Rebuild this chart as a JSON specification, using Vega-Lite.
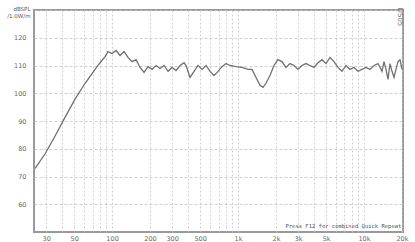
{
  "$schema": "https://vega.github.io/schema/vega-lite/v6.json",
  "width": 369,
  "height": 222,
  "autosize": {"type": "none"},
  "padding": {"left": 34, "top": 10, "right": 12, "bottom": 10},
  "background": "white",
  "config": {"view": {"stroke": "#999999", "strokeWidth": 2}},
  "datasets": {
    "curve": [
      {"f": 24.5, "db": 72.9}, {"f": 29.4, "db": 78.2}, {"f": 35.3, "db": 84.6}, {"f": 42.4, "db": 91.4},
      {"f": 50.8, "db": 97.9}, {"f": 61.1, "db": 103.6}, {"f": 73.3, "db": 108.6}, {"f": 80.3, "db": 111},
      {"f": 88.0, "db": 113.2}, {"f": 92.9, "db": 115}, {"f": 100, "db": 114.3}, {"f": 107.6, "db": 115.4},
      {"f": 115.7, "db": 113.6}, {"f": 124.5, "db": 115}, {"f": 133.9, "db": 112.9}, {"f": 144.1, "db": 111.4},
      {"f": 155.0, "db": 112.1}, {"f": 166.8, "db": 109.3}, {"f": 179.4, "db": 107.5}, {"f": 193.0, "db": 109.6},
      {"f": 207.7, "db": 108.6}, {"f": 223.4, "db": 110}, {"f": 240.4, "db": 108.9}, {"f": 258.6, "db": 110},
      {"f": 278.2, "db": 107.9}, {"f": 299.3, "db": 109.3}, {"f": 322.0, "db": 108.2}, {"f": 346.4, "db": 110},
      {"f": 372.7, "db": 111}, {"f": 386.6, "db": 110}, {"f": 415.9, "db": 105.7}, {"f": 447.5, "db": 107.9},
      {"f": 481.4, "db": 110}, {"f": 517.9, "db": 108.6}, {"f": 557.2, "db": 110}, {"f": 599.4, "db": 107.9},
      {"f": 644.9, "db": 106.4}, {"f": 693.8, "db": 107.9}, {"f": 746.4, "db": 109.6}, {"f": 803.0, "db": 110.7},
      {"f": 863.9, "db": 110}, {"f": 964.0, "db": 109.6}, {"f": 1075.7, "db": 109.3}, {"f": 1200, "db": 108.6},
      {"f": 1291, "db": 108.6}, {"f": 1389, "db": 105.7}, {"f": 1495, "db": 102.9}, {"f": 1578, "db": 102.1},
      {"f": 1666, "db": 103.6}, {"f": 1793, "db": 106.4}, {"f": 1929, "db": 110}, {"f": 2075, "db": 112.1},
      {"f": 2233, "db": 111.4}, {"f": 2402, "db": 109.3}, {"f": 2585, "db": 110.7}, {"f": 2781, "db": 110},
      {"f": 2992, "db": 108.6}, {"f": 3219, "db": 110}, {"f": 3463, "db": 110.7}, {"f": 3726, "db": 110},
      {"f": 4009, "db": 109.3}, {"f": 4313, "db": 111}, {"f": 4640, "db": 112.1}, {"f": 4992, "db": 110.7},
      {"f": 5371, "db": 112.9}, {"f": 5778, "db": 111.4}, {"f": 6217, "db": 109.3}, {"f": 6688, "db": 107.9},
      {"f": 7196, "db": 110}, {"f": 7742, "db": 108.6}, {"f": 8329, "db": 109.3}, {"f": 8961, "db": 107.9},
      {"f": 9641, "db": 108.6}, {"f": 10372, "db": 109.3}, {"f": 11160, "db": 108.6}, {"f": 12006, "db": 110},
      {"f": 12917, "db": 110.7}, {"f": 13897, "db": 107.9}, {"f": 14414, "db": 111.4}, {"f": 14951, "db": 108.6},
      {"f": 15508, "db": 105}, {"f": 16085, "db": 110.7}, {"f": 16684, "db": 107.9}, {"f": 17306, "db": 105.7},
      {"f": 17950, "db": 108.6}, {"f": 18618, "db": 111.4}, {"f": 19311, "db": 112.1}, {"f": 20030, "db": 108.6}
    ],
    "notes": [
      {"f": 19800, "db": 51.2, "label": "Press F12 for combined Quick Repeat"}
    ],
    "tag": [
      {"f": 19300, "db": 127.5, "label": "DS05"}
    ]
  },
  "encoding": {
    "x": {
      "field": "f", "type": "quantitative",
      "scale": {"type": "log", "domain": [24, 20400], "nice": false},
      "axis": {
        "values": [30, 40, 50, 60, 70, 80, 90, 100, 200, 300, 400, 500, 600, 700, 800, 900, 1000, 2000, 3000, 4000, 5000, 6000, 7000, 8000, 9000, 10000, 20000],
        "labelExpr": "indexof([30,50,100,200,300,500,1000,2000,3000,5000,10000,20000], datum.value) < 0 ? '' : (datum.value >= 1000 ? (datum.value/1000) + 'k' : datum.value + '')",
        "title": null,
        "grid": true, "gridDash": [2, 2], "gridColor": "#c4c4c4", "gridWidth": 0.8,
        "domain": false, "ticks": false,
        "labelFontSize": 6.5, "labelColor": "#666666", "labelPadding": 3,
        "labelFont": "DejaVu Sans", "labelOverlap": false
      }
    },
    "y": {
      "field": "db", "type": "quantitative",
      "scale": {"domain": [50, 130], "nice": false},
      "axis": {
        "values": [60, 70, 80, 90, 100, 110, 120, 130],
        "labelExpr": "datum.value == 130 ? '' : datum.label",
        "labelOverlap": false,
        "title": ["dBSPL", "/1.0W/m"],
        "titleAngle": 0, "titleX": -4, "titleY": -4, "titleAlign": "right", "titleBaseline": "top",
        "titleFontSize": 5.5, "titleFontWeight": "normal", "titleColor": "#555555", "titleFont": "DejaVu Sans",
        "grid": true, "gridDash": [3, 2], "gridColor": "#c4c4c4", "gridWidth": 0.8,
        "domain": false, "ticks": false,
        "labelFontSize": 6.5, "labelColor": "#666666", "labelPadding": 8, "labelFont": "DejaVu Sans"
      }
    }
  },
  "layer": [
    {
      "data": {"name": "curve"},
      "mark": {"type": "line", "color": "#707070", "strokeWidth": 1.3, "clip": true}
    },
    {
      "data": {"name": "notes"},
      "mark": {"type": "text", "align": "right", "baseline": "bottom", "fontSize": 5.5, "font": "DejaVu Sans Mono", "color": "#555555"},
      "encoding": {"text": {"field": "label"}}
    },
    {
      "data": {"name": "tag"},
      "mark": {"type": "text", "angle": 90, "align": "center", "baseline": "middle", "fontSize": 7, "font": "DejaVu Sans", "color": "#777777"},
      "encoding": {"text": {"field": "label"}}
    }
  ]
}
